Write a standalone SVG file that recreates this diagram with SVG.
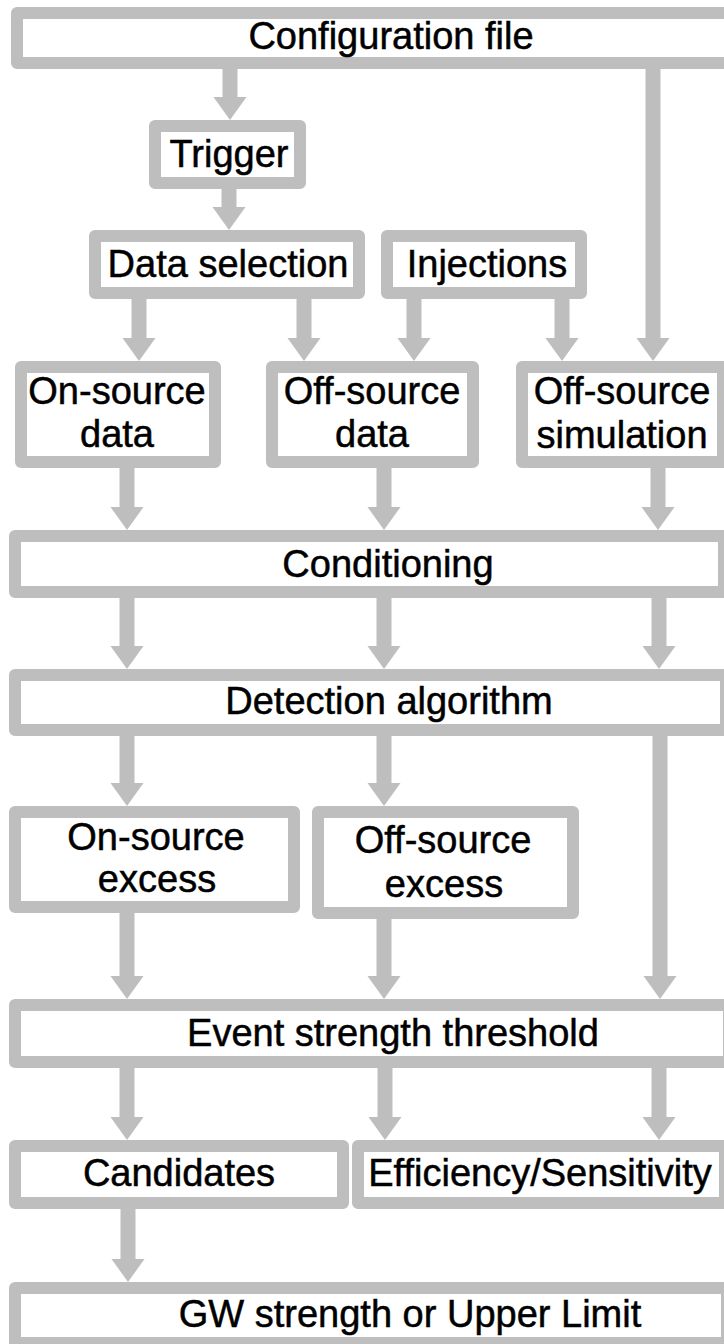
<svg xmlns="http://www.w3.org/2000/svg" width="724" height="1344" viewBox="0 0 724 1344">
  <defs>
    <style>
      .box { fill: #ffffff; stroke: #bebebe; stroke-width: 12; stroke-linejoin: round; }
      .conn { stroke: #bebebe; stroke-width: 15; fill: none; marker-end: url(#head); }
      .lbl { font-family: "Liberation Sans", Arial, sans-serif; font-size: 38px; fill: #000000; stroke: #000000; stroke-width: 0.5; text-anchor: middle; }
    </style>
    <marker id="head" markerUnits="userSpaceOnUse" markerWidth="24" markerHeight="34" viewBox="0 0 24 34" refX="1" refY="17" orient="auto">
      <path d="M0,0.5 L23,17 L0,33.5 Z" fill="#bebebe"/>
    </marker>
  </defs>

  <!-- connectors: each path ends 22px above the arrow tip; the marker draws the head -->
  <g id="connectors">
    <path class="conn" d="M230,66 V98"/>
    <path class="conn" d="M229,186 V208"/>
    <path class="conn" d="M139,296 V339"/>
    <path class="conn" d="M304,296 V339"/>
    <path class="conn" d="M414,296 V339"/>
    <path class="conn" d="M562,296 V339"/>
    <path class="conn" d="M653,66 V339"/>
    <path class="conn" d="M127,465 V508"/>
    <path class="conn" d="M384,465 V508"/>
    <path class="conn" d="M658,465 V508"/>
    <path class="conn" d="M127,595 V647"/>
    <path class="conn" d="M384,595 V647"/>
    <path class="conn" d="M659,595 V647"/>
    <path class="conn" d="M127,733 V784"/>
    <path class="conn" d="M384,733 V784"/>
    <path class="conn" d="M660,733 V977"/>
    <path class="conn" d="M127,910 V977"/>
    <path class="conn" d="M384,916 V977"/>
    <path class="conn" d="M127,1065 V1118"/>
    <path class="conn" d="M385,1065 V1118"/>
    <path class="conn" d="M659,1065 V1118"/>
    <path class="conn" d="M128,1206 V1260"/>
  </g>

  <g id="config">
    <rect class="box" x="17" y="13" width="713" height="50"/>
    <text class="lbl" x="391" y="49">Configuration file</text>
  </g>
  <g id="trigger">
    <rect class="box" x="155" y="126" width="145" height="57"/>
    <text class="lbl" x="229" y="167">Trigger</text>
  </g>
  <g id="data-selection">
    <rect class="box" x="95" y="236" width="264" height="57"/>
    <text class="lbl" x="228" y="277">Data selection</text>
  </g>
  <g id="injections">
    <rect class="box" x="387" y="236" width="194" height="57"/>
    <text class="lbl" x="487" y="277">Injections</text>
  </g>
  <g id="on-source-data">
    <rect class="box" x="21" y="367" width="194" height="95"/>
    <text class="lbl" x="117" y="404">On-source</text>
    <text class="lbl" x="117" y="447">data</text>
  </g>
  <g id="off-source-data">
    <rect class="box" x="272" y="367" width="201" height="95"/>
    <text class="lbl" x="372" y="404">Off-source</text>
    <text class="lbl" x="372" y="447">data</text>
  </g>
  <g id="off-source-simulation">
    <rect class="box" x="522" y="367" width="201" height="95"/>
    <text class="lbl" x="622" y="404">Off-source</text>
    <text class="lbl" x="622" y="448">simulation</text>
  </g>
  <g id="conditioning">
    <rect class="box" x="15" y="536" width="709" height="56"/>
    <text class="lbl" x="388" y="577">Conditioning</text>
  </g>
  <g id="detection">
    <rect class="box" x="15" y="675" width="711" height="55"/>
    <text class="lbl" x="389" y="714">Detection algorithm</text>
  </g>
  <g id="on-source-excess">
    <rect class="box" x="15" y="812" width="279" height="95"/>
    <text class="lbl" x="156" y="850">On-source</text>
    <text class="lbl" x="157" y="892">excess</text>
  </g>
  <g id="off-source-excess">
    <rect class="box" x="318" y="812" width="255" height="101"/>
    <text class="lbl" x="443" y="853">Off-source</text>
    <text class="lbl" x="444" y="897">excess</text>
  </g>
  <g id="event-threshold">
    <rect class="box" x="15" y="1005" width="714" height="57"/>
    <text class="lbl" x="393" y="1046">Event strength threshold</text>
  </g>
  <g id="candidates">
    <rect class="box" x="15" y="1146" width="328" height="57"/>
    <text class="lbl" x="179" y="1186">Candidates</text>
  </g>
  <g id="efficiency">
    <rect class="box" x="358" y="1146" width="367" height="57"/>
    <text class="lbl" x="540" y="1186">Efficiency/Sensitivity</text>
  </g>
  <g id="gw-strength">
    <rect class="box" x="15" y="1288" width="712" height="55"/>
    <text class="lbl" x="410" y="1327">GW strength or Upper Limit</text>
  </g>
</svg>
